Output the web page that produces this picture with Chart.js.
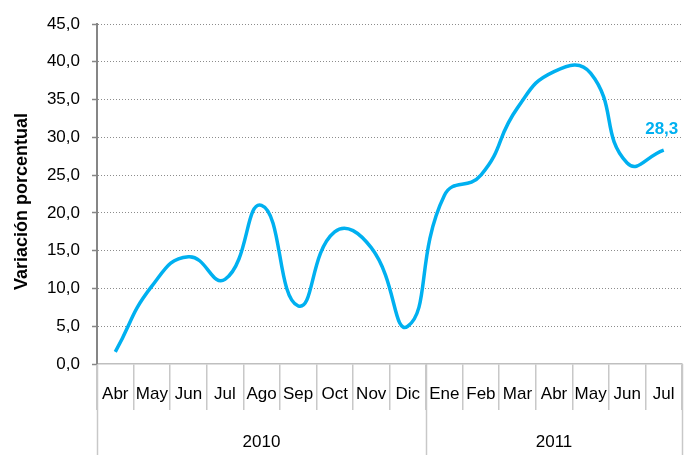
<!DOCTYPE html>
<html>
<head>
<meta charset="utf-8">
<script src="https://cdn.jsdelivr.net/npm/chart.js@4"></script>
<style>
html,body{margin:0;padding:0;background:#fff;}
#wrap{width:689px;height:455px;}
</style>
</head>
<body>
<div id="wrap"><canvas id="c" width="689" height="455"></canvas></div>
<script>
const months = ["Abr","May","Jun","Jul","Ago","Sep","Oct","Nov","Dic","Ene","Feb","Mar","Abr","May","Jun","Jul"];
const years = ["2010","2011"];
const yearSpans = [9, 7];
const values = [1.6,10.3,14.2,11.2,21.0,7.7,17.5,15.4,5.0,22.3,25.0,33.9,38.7,38.5,26.6,28.3];
const yTicks = [0,5,10,15,20,25,30,35,40,45];
const yTitle = "Variación porcentual";
const lastLabel = "28,3";

const FONT = "'Liberation Sans', Arial, sans-serif";
const LINE_COLOR = "#00B0F0";
const SEP_COLOR = "#c8c8c8";

const extras = {
  id: 'extras',
  afterDraw(chart) {
    const ctx = chart.ctx;
    const xs = chart.scales.x;
    const ca = chart.chartArea;
    const cw = xs.width / months.length;
    ctx.save();
    ctx.strokeStyle = SEP_COLOR;
    ctx.lineWidth = 1.5;
    let start = 0;
    const bounds = [0];
    yearSpans.forEach(s => { start += s; bounds.push(start); });
    bounds.forEach(b => {
      const x = Math.round(xs.getPixelForValue(b) - cw / 2) + 0.5;
      ctx.beginPath();
      ctx.moveTo(x, ca.bottom);
      ctx.lineTo(x, chart.height);
      ctx.stroke();
    });
    ctx.fillStyle = "#000";
    ctx.font = "17px " + FONT;
    ctx.textAlign = "center";
    ctx.textBaseline = "alphabetic";
    years.forEach((y, i) => {
      const x0 = xs.getPixelForValue(bounds[i]) - cw / 2;
      const x1 = xs.getPixelForValue(bounds[i + 1]) - cw / 2;
      ctx.fillText(y, (x0 + x1) / 2, ca.bottom + 83);
    });
    ctx.save();
    ctx.translate(27, (ca.top + ca.bottom) / 2 + 7.5);
    ctx.rotate(-Math.PI / 2);
    ctx.font = "bold 18px " + FONT;
    ctx.fillText(yTitle, 0, 0);
    ctx.restore();
    const meta = chart.getDatasetMeta(0);
    const pt = meta.data[meta.data.length - 1];
    ctx.font = "bold 17px " + FONT;
    ctx.fillStyle = LINE_COLOR;
    ctx.fillText(lastLabel, pt.x - 2, pt.y - 16);
    ctx.restore();
  }
};

new Chart(document.getElementById('c'), {
  type: 'line',
  data: {
    labels: months,
    datasets: [{
      data: values,
      borderColor: LINE_COLOR,
      borderWidth: 3.5,
      pointRadius: 0,
      tension: 0.5,
      fill: false
    }]
  },
  options: {
    responsive: false,
    animation: false,
    devicePixelRatio: 1,
    layout: { padding: { top: 24, right: 7, left: 0, bottom: 0 } },
    plugins: { legend: { display: false }, tooltip: { enabled: false } },
    scales: {
      x: {
        type: 'category',
        offset: true,
        afterFit(s) { s.height = 91; },
        grid: {
          offset: true,
          drawOnChartArea: false,
          drawTicks: true,
          tickLength: 46,
          color: SEP_COLOR,
          lineWidth: 1.5
        },
        border: { display: true, color: '#bfbfbf', width: 1.5 },
        ticks: {
          autoSkip: false,
          maxRotation: 0,
          minRotation: 0,
          padding: -26,
          color: '#000',
          font: { family: FONT, size: 17 }
        }
      },
      y: {
        min: 0,
        max: 45,
        afterFit(s) { s.width = 97; },
        afterBuildTicks(s) { s.ticks = yTicks.map(v => ({ value: v })); },
        grid: {
          color: ctx => (ctx.tick && ctx.tick.value === 0) ? 'rgba(0,0,0,0)' : '#8c8c8c',
          tickColor: '#868686',
          lineWidth: 1,
          tickLength: 5,
          tickWidth: 1.5
        },
        border: { display: true, color: '#868686', width: 2, dash: [1, 2] },
        ticks: {
          padding: 12,
          color: '#000',
          font: { family: FONT, size: 17 },
          callback: v => v.toFixed(1).replace('.', ',')
        }
      }
    }
  },
  plugins: [extras]
});
</script>
</body>
</html>
